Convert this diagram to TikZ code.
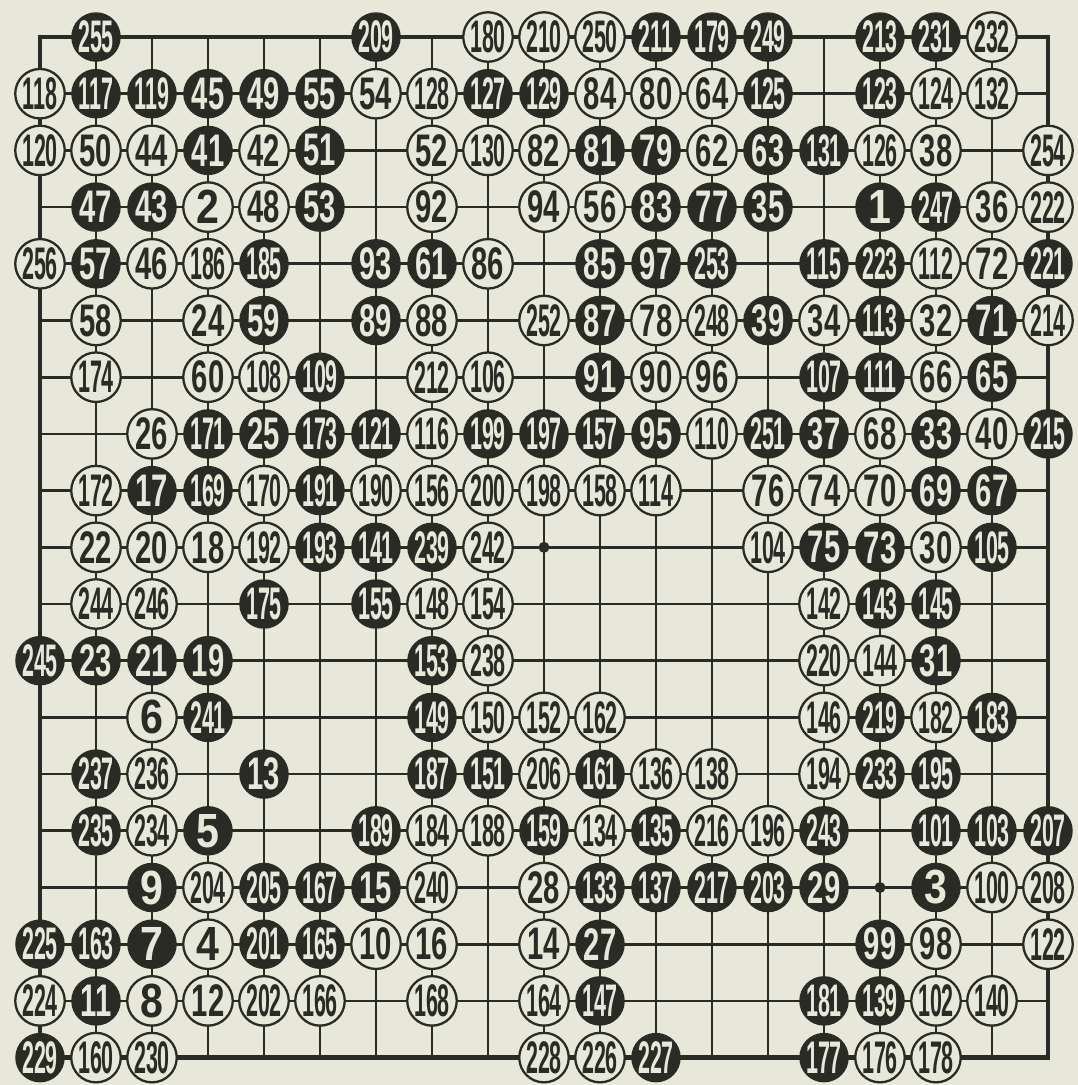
\documentclass[tikz,border=0pt]{standalone}
\usepackage{fontspec}
\usepackage{graphicx}
\newfontfamily\kifufont{Liberation Sans}
\definecolor{kifuPaper}{HTML}{E7E7DA}
\definecolor{kifuInk}{HTML}{2B2B26}
\newcommand\movenum[1]{\makebox[0pt]{\ifnum#1<10 \scalebox{0.9}[1.05]{#1}\else\ifnum#1<100 \scalebox{0.64}[1]{#1}\else\scalebox{0.47}[1]{#1}\fi\fi}}

\begin{document}
\begin{tikzpicture}[x=0.56cm,y=-0.567cm,
    stone/.style={circle,minimum size=4.95mm,inner sep=0pt,
                  font=\fontsize{13}{13}\kifufont\bfseries},
    bstone/.style={stone,fill=kifuInk,text=kifuPaper},
    wstone/.style={stone,fill=kifuPaper,draw=kifuInk,line width=0.65pt,text=kifuInk}]
  \fill[kifuPaper] ([xshift=-0.40cm,yshift=0.37cm]1,1) rectangle ++(10.78cm,-10.85cm);
  \useasboundingbox ([xshift=-0.40cm,yshift=0.37cm]1,1) rectangle ++(10.78cm,-10.85cm);
  \foreach \i in {2,...,18} {
    \draw[kifuInk,line width=0.75pt] (\i,1) -- (\i,19);
    \draw[kifuInk,line width=0.75pt] (1,\i) -- (19,\i);
  }
  \draw[kifuInk,line width=1.3pt] (1,1) rectangle (19,19);
  \foreach \pt in {(10,10),(16,16)}
    \fill[kifuInk] \pt circle (0.055cm);
  \foreach \col/\row/\mv in {2/1/255,7/1/209,12/1/211,13/1/179,14/1/249,16/1/213,17/1/231,
      2/2/117,3/2/119,4/2/45,5/2/49,6/2/55,9/2/127,10/2/129,14/2/125,16/2/123,
      4/3/41,6/3/51,11/3/81,12/3/79,14/3/63,15/3/131,
      2/4/47,3/4/43,6/4/53,12/4/83,13/4/77,14/4/35,16/4/1,17/4/247,
      2/5/57,5/5/185,7/5/93,8/5/61,11/5/85,12/5/97,13/5/253,15/5/115,16/5/223,19/5/221,
      5/6/59,7/6/89,11/6/87,14/6/39,16/6/113,18/6/71,
      6/7/109,11/7/91,15/7/107,16/7/111,18/7/65,
      4/8/171,5/8/25,6/8/173,7/8/121,9/8/199,10/8/197,11/8/157,12/8/95,14/8/251,15/8/37,17/8/33,19/8/215,
      3/9/17,4/9/169,6/9/191,17/9/69,18/9/67,
      6/10/193,7/10/141,8/10/239,15/10/75,16/10/73,18/10/105,
      5/11/175,7/11/155,16/11/143,17/11/145,
      1/12/245,2/12/23,3/12/21,4/12/19,8/12/153,17/12/31,
      4/13/241,8/13/149,16/13/219,18/13/183,
      2/14/237,5/14/13,8/14/187,9/14/151,11/14/161,16/14/233,17/14/195,
      2/15/235,4/15/5,7/15/189,10/15/159,12/15/135,15/15/243,17/15/101,18/15/103,19/15/207,
      3/16/9,5/16/205,6/16/167,7/16/15,11/16/133,12/16/137,13/16/217,14/16/203,15/16/29,17/16/3,
      1/17/225,2/17/163,3/17/7,5/17/201,6/17/165,11/17/27,16/17/99,
      2/18/11,11/18/147,15/18/181,16/18/139,
      1/19/229,12/19/227,15/19/177}
    \node[bstone] (s\mv) at (\col,\row) {\movenum{\mv}};
  \foreach \col/\row/\mv in {9/1/180,10/1/210,11/1/250,18/1/232,
      1/2/118,7/2/54,8/2/128,11/2/84,12/2/80,13/2/64,17/2/124,18/2/132,
      1/3/120,2/3/50,3/3/44,5/3/42,8/3/52,9/3/130,10/3/82,13/3/62,16/3/126,17/3/38,19/3/254,
      4/4/2,5/4/48,8/4/92,10/4/94,11/4/56,18/4/36,19/4/222,
      1/5/256,3/5/46,4/5/186,9/5/86,17/5/112,18/5/72,
      2/6/58,4/6/24,8/6/88,10/6/252,12/6/78,13/6/248,15/6/34,17/6/32,19/6/214,
      2/7/174,4/7/60,5/7/108,8/7/212,9/7/106,12/7/90,13/7/96,17/7/66,
      3/8/26,8/8/116,13/8/110,16/8/68,18/8/40,
      2/9/172,5/9/170,7/9/190,8/9/156,9/9/200,10/9/198,11/9/158,12/9/114,14/9/76,15/9/74,16/9/70,
      2/10/22,3/10/20,4/10/18,5/10/192,9/10/242,14/10/104,17/10/30,
      2/11/244,3/11/246,8/11/148,9/11/154,15/11/142,
      9/12/238,15/12/220,16/12/144,
      3/13/6,9/13/150,10/13/152,11/13/162,15/13/146,17/13/182,
      3/14/236,10/14/206,12/14/136,13/14/138,15/14/194,
      3/15/234,8/15/184,9/15/188,11/15/134,13/15/216,14/15/196,
      4/16/204,8/16/240,10/16/28,18/16/100,19/16/208,
      4/17/4,7/17/10,8/17/16,10/17/14,17/17/98,19/17/122,
      1/18/224,3/18/8,4/18/12,5/18/202,6/18/166,8/18/168,10/18/164,17/18/102,18/18/140,
      2/19/160,3/19/230,10/19/228,11/19/226,16/19/176,17/19/178}
    \node[wstone] (s\mv) at (\col,\row) {\movenum{\mv}};
\end{tikzpicture}
\end{document}
